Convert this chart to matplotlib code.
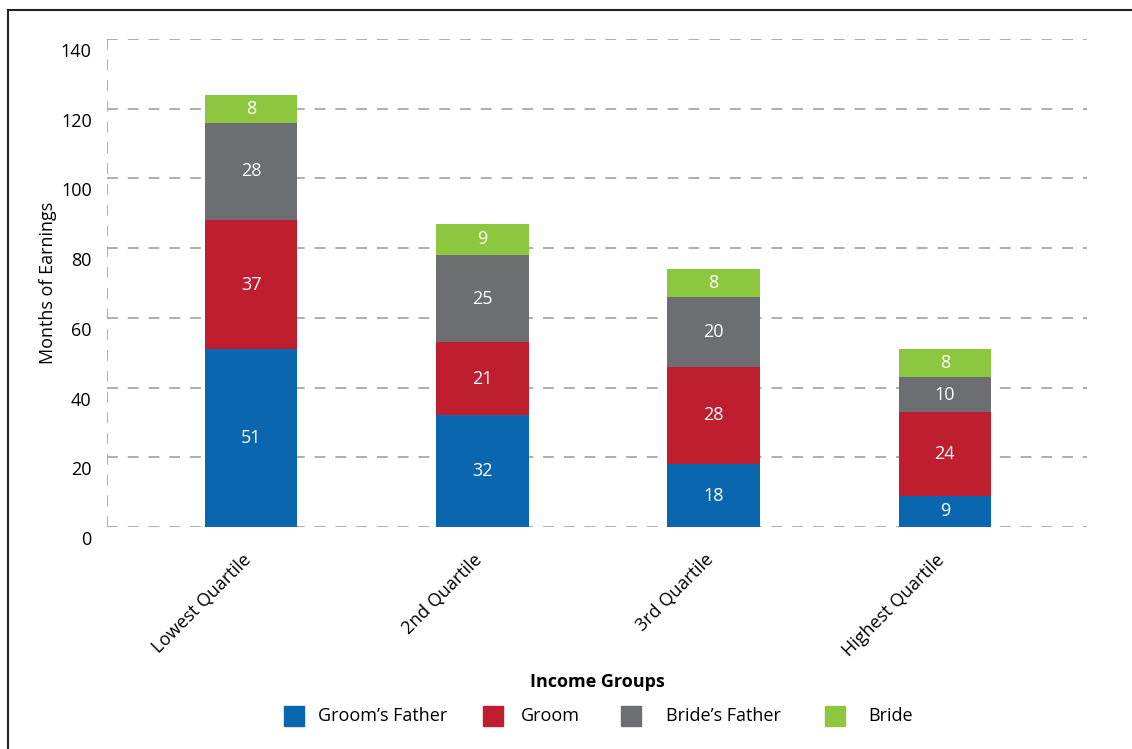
import matplotlib.pyplot as plt
from matplotlib.patches import Rectangle
from matplotlib.lines import Line2D
from matplotlib.transforms import ScaledTranslation
import numpy as np

plt.rcParams['font.family'] = ['Open Sans', 'DejaVu Sans']

groups = ["Lowest Quartile", "2nd Quartile", "3rd Quartile", "Highest Quartile"]
series = ["Groom\u2019s Father", "Groom", "Bride\u2019s Father", "Bride"]
grooms_father = [51, 32, 18, 9]
groom = [37, 21, 28, 24]
brides_father = [28, 25, 20, 10]
bride = [8, 9, 8, 8]
colors = ["#0b66b0", "#be1e2d", "#6d6e71", "#8dc63f"]

W, H = 1132, 749
fig = plt.figure(figsize=(W / 100, H / 100), dpi=100)
ax = fig.add_axes([107 / W, 1 - 527 / H, 980 / W, 488 / H])

x = np.arange(len(groups))
bottom = np.zeros(len(groups))
for vals, col in zip([grooms_father, groom, brides_father, bride], colors):
    vals = np.array(vals)
    ax.bar(x, vals, width=0.40, bottom=bottom, color=col, zorder=3)
    for xi, b, v in zip(x, bottom, vals):
        ax.text(xi, b + v / 2, str(v), ha='center', va='center',
                color='white', fontsize=13, zorder=4)
    bottom += vals

ax.set_xlim(-0.623, 3.615)
ax.set_ylim(0, 140)
ax.set_yticks(range(0, 141, 20))
dash = (0, (6, 5.5))
for y in range(0, 141, 20):
    ax.axhline(y, color='#a8a8a8', lw=1.3, ls=dash, zorder=1)
ax.axvline(-0.623, color='#a8a8a8', lw=1.3, ls=dash, zorder=1)
for s in ax.spines.values():
    s.set_visible(False)

ax.tick_params(axis='y', length=0, labelsize=13, pad=11)
ax.tick_params(axis='x', length=0, labelsize=13, pad=17)
ax.set_xticks(x)
ax.set_xticklabels(groups, rotation=45, ha='right', va='top',
                   rotation_mode='anchor')
yshift = ScaledTranslation(0, -11 / 100, fig.dpi_scale_trans)
for lbl in ax.get_yticklabels():
    lbl.set_transform(lbl.get_transform() + yshift)
xshift = ScaledTranslation(-9 / 100, 0, fig.dpi_scale_trans)
for lbl in ax.get_xticklabels():
    lbl.set_transform(lbl.get_transform() + xshift)

ax.set_ylabel("Months of Earnings", fontsize=13, labelpad=3)

fig.text(0.528, 1 - 682 / H, "Income Groups", ha='center', va='center',
         fontsize=13, fontweight='bold')

# legend row: colour box then label
box_x = [284, 483, 621, 825]
text_x = [318, 521, 666, 868]
for bx, tx, col, name in zip(box_x, text_x, colors, series):
    fig.add_artist(Rectangle((bx / W, 1 - 726 / H), 20 / W, 20 / H,
                             color=col, transform=fig.transFigure))
    fig.text(tx / W, 1 - 716 / H, name, ha='left', va='center', fontsize=13)

# outer frame edges
fig.add_artist(Line2D([8 / W, 8 / W], [0, 1 - 10 / H], color='#222222', lw=1.5))
fig.add_artist(Line2D([8 / W, 1], [1 - 10 / H, 1 - 10 / H],
                      color='#222222', lw=1.5))

fig.savefig('out.png', dpi=100)
